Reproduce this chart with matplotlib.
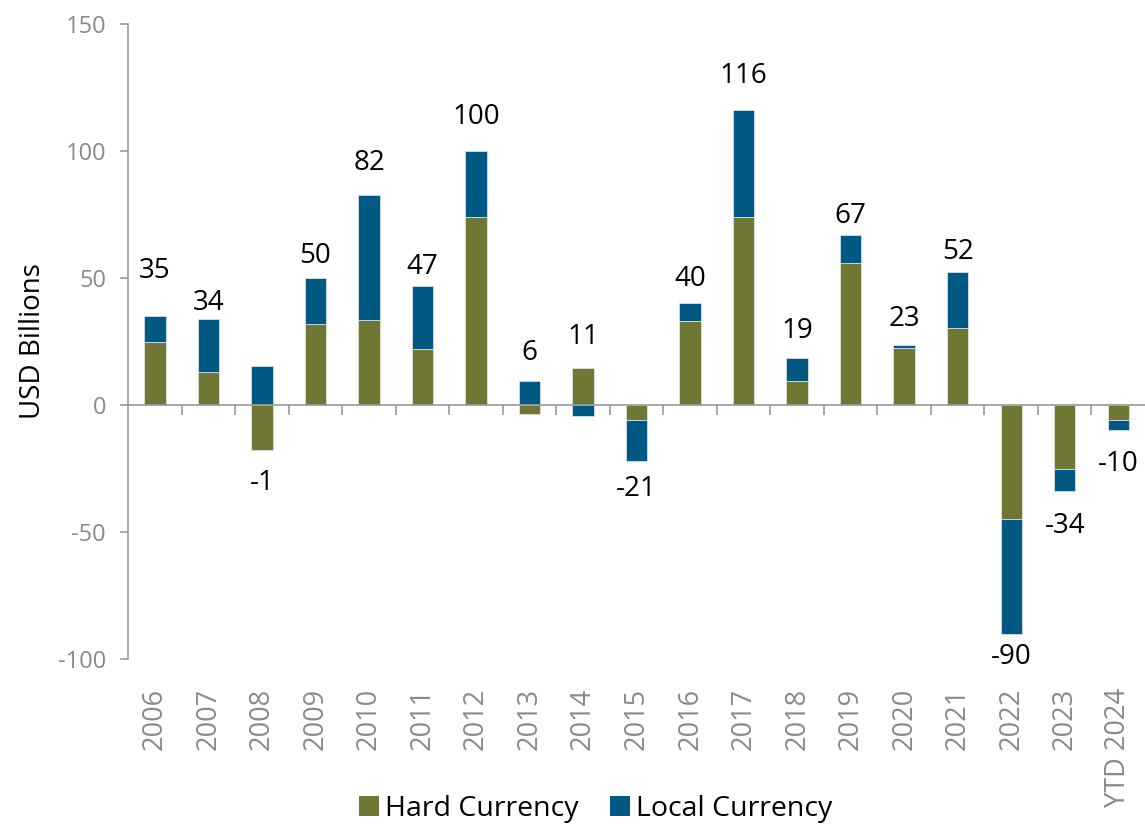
import matplotlib.pyplot as plt
from matplotlib.patches import Patch

# EM debt fund flows, USD bn
years = ["2006", "2007", "2008", "2009", "2010", "2011", "2012", "2013", "2014",
         "2015", "2016", "2017", "2018", "2019", "2020", "2021", "2022", "2023",
         "YTD 2024"]
hard_ccy = [25, 13, -17.5, 32, 33.5, 22, 74, -3.5, 14.5,
            -6, 33, 74, 9.5, 56, 22.5, 30.5, -45, -25, -6]
local_ccy = [10, 21, 15.5, 18, 49, 25, 26, 9.5, -4.5,
             -16, 7, 42, 9, 11, 1, 22, -45, -9, -4]
totals = [35, 34, -1, 50, 82, 47, 100, 6, 11,
          -21, 40, 116, 19, 67, 23, 52, -90, -34, -10]

GREEN = "#707634"
BLUE = "#005883"
GREY = "#9a9a9a"
TICK_GREY = "#8a8a8a"

# distance (px) from bar end to label centre, hand-tuned to the original
label_gap = [45, 16, 33, 22, 32, 19, 34, 28, 31, 28, 24, 34, 27, 19, 26, 20, 23, 35, 34]

plt.rcParams["font.family"] = ["Open Sans", "DejaVu Sans"]
plt.rcParams["axes.unicode_minus"] = False

fig = plt.figure(figsize=(11.45, 8.27), dpi=100)
ax = fig.add_axes([0.112, 0.203, 0.888, 0.768])

x = list(range(len(years)))
width = 0.4

# positives stack upward from 0, negatives downward from 0
local_bottom = [h if (h >= 0) == (l >= 0) else 0 for h, l in zip(hard_ccy, local_ccy)]
ax.bar(x, hard_ccy, width, color=GREEN, edgecolor="#dfe6d0", linewidth=0.6, zorder=1)
ax.bar(x, local_ccy, width, bottom=local_bottom, color=BLUE, edgecolor="#cfe0ea",
       linewidth=0.6, zorder=1)

for i, tot in enumerate(totals):
    parts = [hard_ccy[i], local_ccy[i]]
    if tot >= 0:
        end = sum(p for p in parts if p > 0)
        gap = label_gap[i]
    else:
        end = sum(p for p in parts if p < 0)
        gap = -label_gap[i]
    ax.annotate(f"{tot}", xy=(i, end), xytext=(0, gap), textcoords="offset pixels",
                ha="center", va="center", fontsize=20, color="black")

# category labels sit below the plot, the x axis itself sits at zero
for i, yr in enumerate(years):
    ax.annotate(yr, xy=(i, 0), xycoords=("data", "axes fraction"), xytext=(0, -29),
                textcoords="offset pixels", rotation=90, ha="center", va="top",
                fontsize=19.5, color=TICK_GREY)

ax.set_xlim(-0.5, len(years) - 0.5)
ax.set_ylim(-100, 150)
ax.set_yticks([-100, -50, 0, 50, 100, 150])
ax.tick_params(axis="y", colors=GREY, labelcolor=TICK_GREY, labelsize=17,
               length=6, width=1.2, pad=10)

ax.spines["bottom"].set_position(("data", 0))
ax.spines["bottom"].set_color(GREY)
ax.spines["bottom"].set_linewidth(1.2)
ax.spines["left"].set_color(GREY)
ax.spines["left"].set_linewidth(1.2)
ax.spines["top"].set_visible(False)
ax.spines["right"].set_visible(False)

ax.set_xticks([i + 0.5 for i in range(len(years) - 1)])
ax.set_xticklabels([])
ax.tick_params(axis="x", colors=GREY, length=7, width=1.2, direction="out")

ax.set_ylabel("USD Billions", fontsize=20, color="black", labelpad=8)

handles = [Patch(facecolor=GREEN, label="Hard Currency"),
           Patch(facecolor=BLUE, label="Local Currency")]
fig.legend(handles=handles, loc="center", bbox_to_anchor=(0.52, 0.022), ncol=2,
           frameon=False, fontsize=20.5, handlelength=0.72, handleheight=0.72,
           handletextpad=0.2, columnspacing=1.1)

fig.savefig("out.png", dpi=100)
